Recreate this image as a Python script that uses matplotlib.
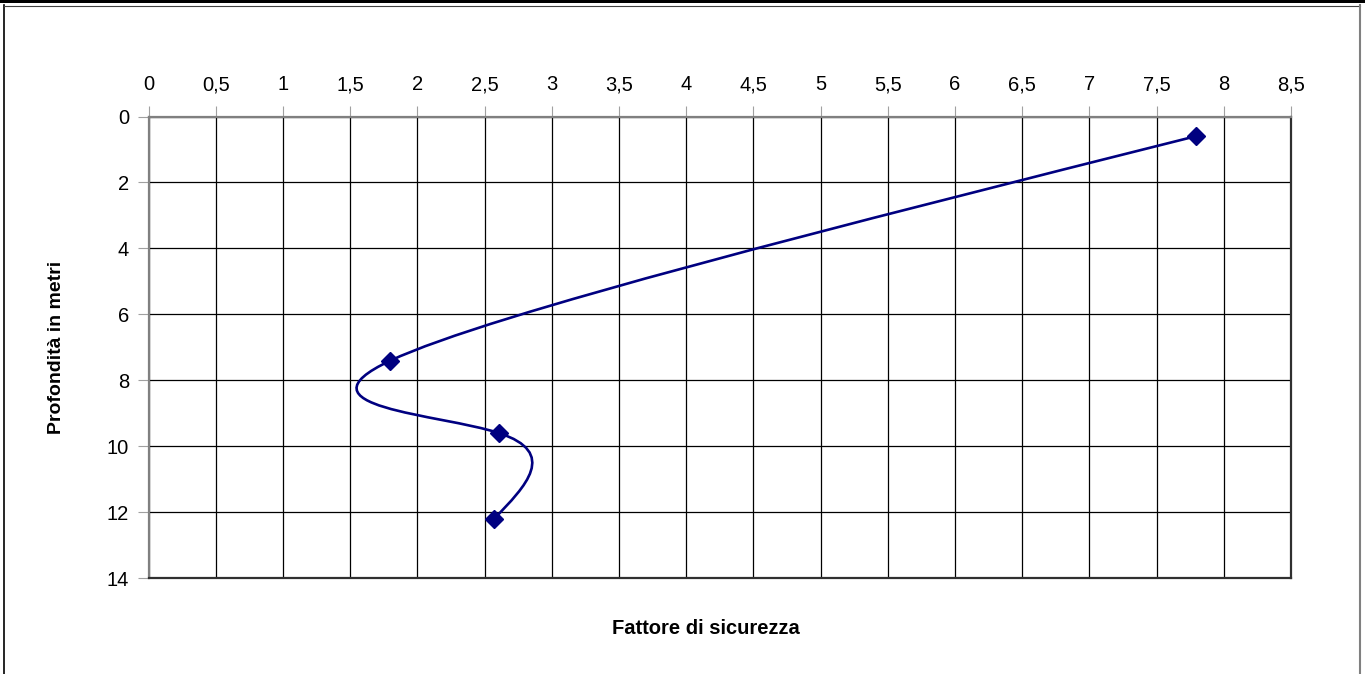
import numpy as np
import matplotlib.pyplot as plt
from matplotlib.path import Path
from matplotlib.patches import PathPatch, Rectangle
from matplotlib.lines import Line2D
from matplotlib.ticker import MultipleLocator, FuncFormatter

# fattore di sicurezza vs profondità
fattore = [7.79, 1.80, 2.61, 2.57]
profondita = [0.6, 7.4, 9.6, 12.2]

x_max = 8.5
y_max = 14
x_step = 0.5
y_step = 2

x_title = "Fattore di sicurezza"
y_title = "Profondità in metri"

W, H = 1365, 674
LINE = '#000080'

plt.rcParams['font.family'] = ['Liberation Sans', 'DejaVu Sans']


def smooth_path(xs, ys):
    """Curva liscia (spline cubica naturale, parametro uniforme) come tratti di Bezier."""
    p = np.column_stack([xs, ys]).astype(float)
    n = len(p)
    A = np.zeros((n, n))
    rhs = np.zeros((n, 2))
    A[0, 0] = A[-1, -1] = 1
    for i in range(1, n - 1):
        A[i, i - 1:i + 2] = [1, 4, 1]
        rhs[i] = 6 * (p[i + 1] - 2 * p[i] + p[i - 1])
    M = np.linalg.solve(A, rhs)
    d = np.zeros_like(p)
    for i in range(n - 1):
        d[i] = (p[i + 1] - p[i]) - (2 * M[i] + M[i + 1]) / 6
    d[-1] = (p[-1] - p[-2]) + (M[-2] + 2 * M[-1]) / 6

    verts = [p[0]]
    codes = [Path.MOVETO]
    for i in range(n - 1):
        verts += [p[i] + d[i] / 3, p[i + 1] - d[i + 1] / 3, p[i + 1]]
        codes += [Path.CURVE4] * 3
    return Path(verts, codes)


fig = plt.figure(figsize=(W / 100, H / 100), dpi=100)
fig.patch.set_facecolor('white')

# cornice del grafico
fig.add_artist(Rectangle((0, 1 - 3 / H), 1, 3 / H, transform=fig.transFigure,
                         color='black', lw=0))
fig.add_artist(Line2D([3.5 / W, 3.5 / W], [0, 1 - 5 / H], transform=fig.transFigure,
                      color='black', lw=1.2))
fig.add_artist(Line2D([3.5 / W, 1360 / W], [1 - 5.5 / H, 1 - 5.5 / H],
                      transform=fig.transFigure, color='#404040', lw=0.8))
fig.add_artist(Line2D([1360 / W, 1360 / W], [0, 1 - 5 / H], transform=fig.transFigure,
                      color='#808080', lw=1.5))

ax = fig.add_axes([148.5 / W, 1 - 578.3 / H, (1291 - 148.5) / W, (578.3 - 116.5) / H])
ax.set_xlim(0, x_max)
ax.set_ylim(y_max, 0)

ax.xaxis.tick_top()
ax.xaxis.set_major_locator(MultipleLocator(x_step))
ax.yaxis.set_major_locator(MultipleLocator(y_step))
fmt = FuncFormatter(lambda v, pos: '{:g}'.format(v).replace('.', ','))
ax.xaxis.set_major_formatter(fmt)
ax.yaxis.set_major_formatter(fmt)
ax.tick_params(direction='out', length=8, width=0.8, color='#a0a0a0',
               labelsize=14.5, pad=6)
ax.tick_params(axis='x', pad=8)

ax.grid(True, color='black', lw=0.9)
ax.set_axisbelow(True)

for side in ('top', 'left'):
    ax.spines[side].set_color('#808080')
    ax.spines[side].set_linewidth(1.6)
for side in ('bottom', 'right'):
    ax.spines[side].set_color('#303030')
    ax.spines[side].set_linewidth(1.6)

ax.add_patch(PathPatch(smooth_path(fattore, profondita), fill=False,
                       edgecolor=LINE, lw=1.9, zorder=3))
ax.plot(fattore, profondita, ls='none', marker='D', ms=9, color=LINE, zorder=4)

fig.text(706 / W, 1 - 629 / H, x_title, ha='center', va='center',
         fontsize=14.5, fontweight='bold')
fig.text(57 / W, 1 - 347 / H, y_title, ha='center', va='center',
         rotation=90, fontsize=14, fontweight='bold')

fig.savefig('out.png', dpi=100)
